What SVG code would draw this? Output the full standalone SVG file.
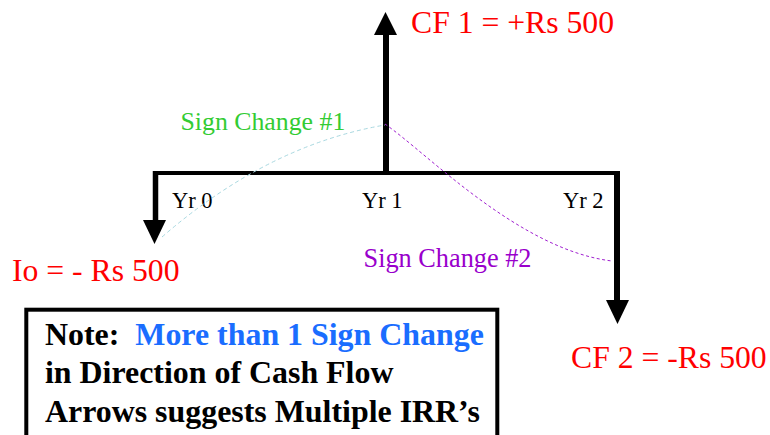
<svg xmlns="http://www.w3.org/2000/svg" width="770" height="435" viewBox="0 0 770 435">
<style>
.lbl{font-family:"Liberation Serif","Times New Roman",serif;}
.red{fill:#ff0000;font-size:31.7px;}
.yr{fill:#000;font-size:22.5px;}
.note{font-family:"Liberation Serif","Times New Roman",serif;font-size:31.9px;font-weight:bold;fill:#000;}
.shaft{stroke:#000;fill:none;}
.head{fill:#000;}
</style>
<rect width="770" height="435" fill="#fff"/>
<g id="timeline">
<path class="shaft" d="M153 173 H620" stroke-width="4"/>
</g>
<g id="cf0">
<path class="shaft" d="M155.5 171 V221" stroke-width="5.5"/>
<polygon class="head" points="143,220 166,220 154.5,244"/>
<text class="lbl yr" x="172" y="208">Yr 0</text>
<text class="lbl red" x="12" y="281">Io = - Rs 500</text>
</g>
<g id="cf1">
<path class="shaft" d="M386 175 V34" stroke-width="6"/>
<polygon class="head" points="374,35 397,35 385.5,12"/>
<text class="lbl yr" x="362" y="208">Yr 1</text>
<text class="lbl red" x="411" y="33">CF 1 = +Rs 500</text>
</g>
<g id="cf2">
<path class="shaft" d="M617 171 V301" stroke-width="6"/>
<polygon class="head" points="606,300 629,300 617.5,324"/>
<text class="lbl yr" x="563" y="208">Yr 2</text>
<text class="lbl red" x="571" y="368">CF 2 = -Rs 500</text>
</g>
<g id="connectors" fill="none" stroke-width="1">
<path d="M162 237 Q268 145 385 125" stroke="#a8d8e0" stroke-dasharray="4 3"/>
<path d="M385 124 C428 154 520 250 612 261" stroke="#a020d0" stroke-dasharray="3 2.5"/>
</g>
<g id="sign1">
<text class="lbl" x="180.5" y="130" font-size="25.8" fill="#33cc33">Sign Change #1</text>
</g>
<g id="sign2">
<text class="lbl" x="363.5" y="267" font-size="26.3" fill="#9900cc">Sign Change #2</text>
</g>
<g id="note">
<rect x="26.3" y="309.7" width="471" height="150" fill="#fff" stroke="#000" stroke-width="4"/>
<text class="note" x="45" y="345" xml:space="preserve">Note:  <tspan fill="#1a6dff">More than 1 Sign Change</tspan></text>
<text class="note" x="45" y="383">in Direction of Cash Flow</text>
<text class="note" x="45" y="422">Arrows suggests Multiple IRR’s</text>
</g>
</svg>
